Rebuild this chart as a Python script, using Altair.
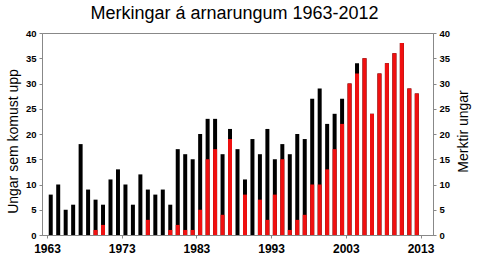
import altair as alt
import pandas as pd

years = list(range(1963, 2013))
fledged = [8, 10, 5, 6, 18, 9, 7, 6, 11, 13,
           10, 6, 12, 9, 8, 9, 6, 17, 16, 15,
           20, 23, 23, 16, 21, 17, 11, 19, 16, 21,
           15, 18, 16, 20, 19, 27, 29, 22, 24, 27,
           30, 34, 35, 24, 32, 34, 36, 38, 29, 28]
marked = [0, 0, 0, 0, 0, 0, 1, 2, 0, 0,
          0, 0, 0, 3, 0, 0, 1, 2, 1, 1,
          5, 15, 17, 4, 19, 0, 8, 0, 7, 3,
          8, 15, 1, 3, 4, 10, 10, 13, 17, 22,
          30, 32, 35, 24, 32, 34, 36, 38, 29, 28]
x_ticks = [1963, 1973, 1983, 1993, 2003, 2013]
y_ticks = [0, 5, 10, 15, 20, 25, 30, 35, 40]

df = pd.DataFrame({"year": years, "fledged": fledged, "marked": marked})

FONT = "Liberation Sans"
AX = "#888888"

base = alt.Chart(df).transform_calculate(xpos="datum.year + 0.5")

xenc = alt.X(
    "xpos:Q",
    scale=alt.Scale(domain=[1963, 2014], nice=False, zero=False),
    axis=alt.Axis(values=x_ticks, format="d", title=None, grid=False,
                  labelFont=FONT, labelFontSize=12, labelFontWeight="bold",
                  labelColor="black", domainColor=AX, tickColor=AX,
                  tickSize=3, labelPadding=5, labelFlush=False),
)

black = base.mark_bar(size=4, color="black").encode(
    x=xenc,
    y=alt.Y("fledged:Q", scale=alt.Scale(domain=[0, 40], nice=False),
            axis=alt.Axis(values=y_ticks, title="Ungar sem komust upp", grid=False,
                          labelFont=FONT, labelFontSize=9.5, labelFontWeight="bold",
                          labelColor="black", domainColor=AX, tickColor=AX,
                          tickSize=3, labelPadding=3,
                          titleFont=FONT, titleFontSize=14, titleFontWeight="normal",
                          titleColor="black", titleAngle=270, titleAlign="center",
                          titleBaseline="middle", titleX=-29, titleY=108)),
)

red = base.mark_bar(size=4, color="#f01010").encode(
    x=alt.X("xpos:Q"),
    y=alt.Y("marked:Q", scale=alt.Scale(domain=[0, 40], nice=False),
            axis=alt.Axis(orient="right", values=y_ticks, title="Merktir ungar", grid=False,
                          labelFont=FONT, labelFontSize=9.5, labelFontWeight="bold",
                          labelColor="black", domainColor=AX, tickColor=AX,
                          tickSize=3, labelPadding=3,
                          titleFont=FONT, titleFontSize=14, titleFontWeight="normal",
                          titleColor="black", titleAngle=270, titleAlign="center",
                          titleBaseline="middle", titleX=30, titleY=98)),
)

chart = (
    alt.layer(black, red)
    .resolve_scale(y="independent")
    .properties(
        width=391, height=202,
        autosize=alt.AutoSizeParams(type="none"),
        padding={"left": 42, "top": 33, "right": 47, "bottom": 25},
        title=alt.TitleParams("Merkingar á arnarungum 1963-2012", font=FONT,
                              fontSize=18, fontWeight="normal", color="black",
                              anchor="middle", offset=5, dx=-3),
    )
    .configure_view(stroke=AX, strokeWidth=1)
)

chart.save("out.html", embed_options={"renderer": "svg", "actions": False})
